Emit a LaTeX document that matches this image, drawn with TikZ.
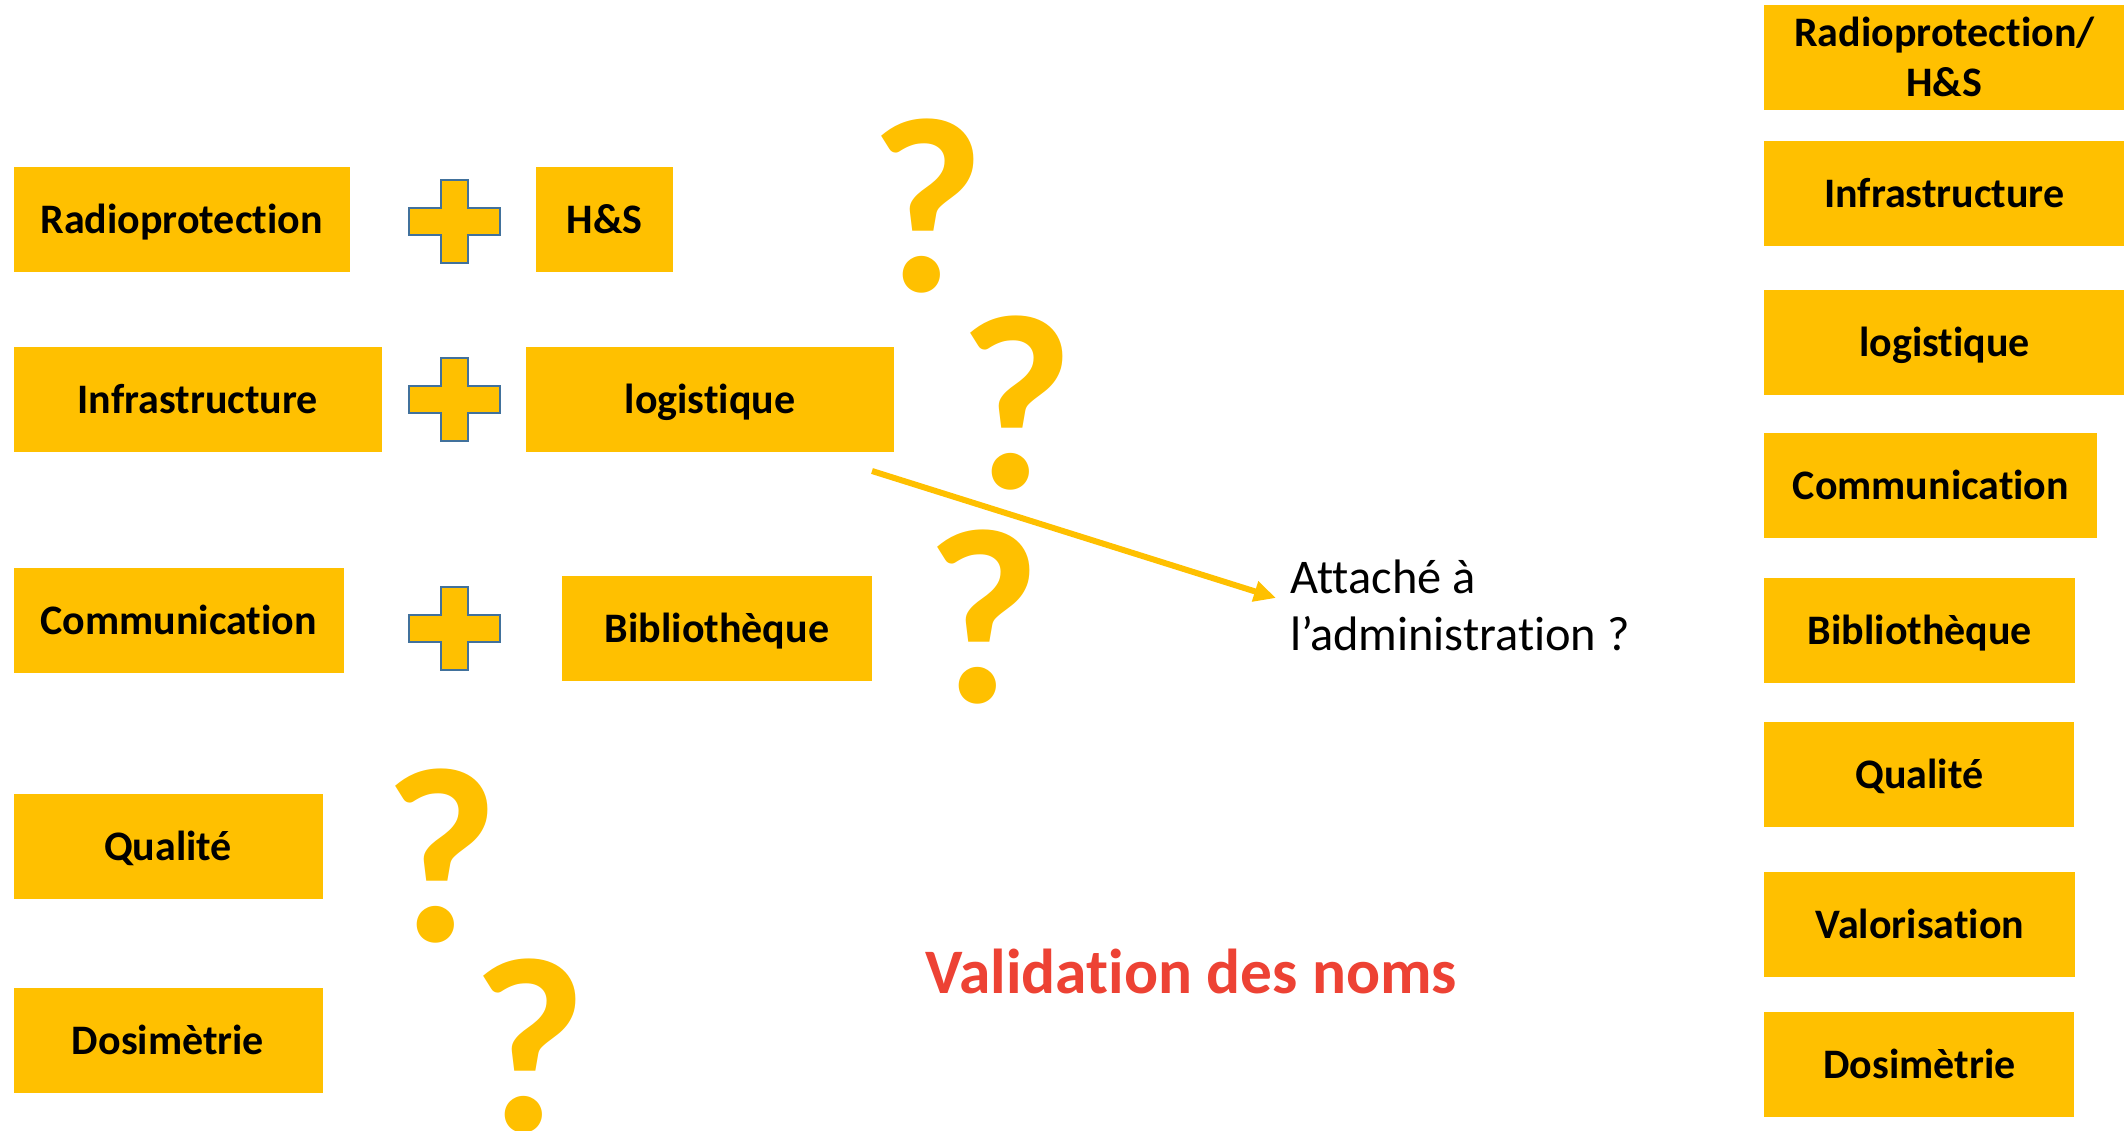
\documentclass[tikz,border=0pt]{standalone}
\usepackage{fontspec}
\setmainfont{Carlito}[Ligatures=NoCommon]
\usetikzlibrary{arrows.meta}

\definecolor{gold}{RGB}{255,192,0}
\definecolor{plusblue}{RGB}{65,113,156}
\definecolor{titlered}{RGB}{237,66,52}

\begin{document}
\begin{tikzpicture}[x=0.5pt,y=-0.5pt,
    boxfill/.style={fill=gold, inner sep=0pt, minimum height=52.5pt, font=\bfseries\fontsize{21}{25}\selectfont},
    box/.style={boxfill, text height=15.5pt, text depth=1.5pt},
    plusmark/.style={fill=gold, draw=plusblue, line width=1pt},
    qmark/.style={text=gold, inner sep=0pt, anchor=base, font=\bfseries\fontsize{125}{125}\selectfont},
    yellowarrow/.style={draw=gold, line width=3pt, -{Triangle[length=11pt,width=10pt]}}]
\useasboundingbox (0,0) rectangle (2124,1130);

% left column
\node[box, minimum width=168pt] (radio) at (181.5,219.5) {Radioprotection};
\node[box, minimum width=184pt] (infra) at (197.8,399) {Infrastructure};
\node[box, minimum width=165pt] (comm) at (178.8,620.4) {Communication};
\node[box, minimum width=154.5pt] (qual) at (168,846.6) {Qualité};
\node[box, minimum width=154.5pt] (dosi) at (168,1040) {Dosimètrie};

% plus signs
\foreach \py in {221.5, 399.5, 628.5}{
    \draw[plusmark, shift={(454.5,\py)}] (-13.5,-41.5) -- (13.5,-41.5) -- (13.5,-13.5) -- (45.5,-13.5)
        -- (45.5,13.5) -- (13.5,13.5) -- (13.5,41.5) -- (-13.5,41.5) -- (-13.5,13.5)
        -- (-45.5,13.5) -- (-45.5,-13.5) -- (-13.5,-13.5) -- cycle;
}

% middle column
\node[box, minimum width=68.5pt] (hs) at (604.5,219.5) {H\&S};
\node[box, minimum width=184pt] (logi) at (710,399) {logistique};
\node[box, minimum width=155pt] (biblio) at (717,628) {Bibliothèque};

% question marks
\foreach \i/\qx/\qy in {1/927/291, 2/1016/488, 3/983/702, 4/441/941, 5/529/1131}{
    \node[qmark] (q\i) at (\qx,\qy) {?};
}

% administration
\node[font=\fontsize{24.2}{28.5}\selectfont, align=left, anchor=west, inner sep=0pt] (attache) at (1290,605) {Attaché à\\l’administration ?};
\coordinate (arrowstart) at (872,471);
\draw[yellowarrow] (arrowstart) -- ([shift={(-14,-7)}]attache.west);

\node[font=\bfseries\fontsize{31.7}{36}\selectfont, text=titlered, anchor=base, inner sep=0pt] (titre) at (1191,993) {Validation des noms};

% right column
\node[boxfill, anchor=west, minimum width=180pt, align=center] (rradio) at (1764,57) {Radioprotection/\\H\&S};
\foreach \nm/\txt/\yy/\ww in {rinfra/Infrastructure/193/180pt, rlogi/logistique/342/180pt,
    rcomm/Communication/485/166.5pt, rbiblio/Bibliothèque/630.5/155.5pt, rqual/Qualité/774/155pt,
    rvalo/Valorisation/924/155.5pt, rdosi/Dosimètrie/1064.5/155pt}{
    \node[box, anchor=west, minimum width=\ww] (\nm) at (1764,\yy) {\txt};
}
\end{tikzpicture}
\end{document}
